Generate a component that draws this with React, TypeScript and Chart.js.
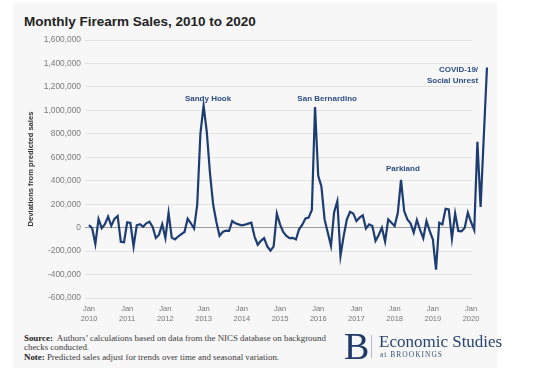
import React, { useEffect, useRef } from "react";
import { Chart, registerables } from "chart.js";

Chart.register(...registerables);

// Deviations from predicted monthly sales (thousands), Jan 2010 – Jun 2020
const dev2010 = [23, -6, -140, 74, -5, 30, 94, 15, 75, 100, -120, -125];
const dev2011 = [46, 40, -160, 20, 29, 8, 37, 50, 5, -88, -60, 29];
const dev2012 = [-88, 126, -85, -100, -76, -56, -37, 76, 37, -8, 197, 803];
const dev2013 = [1040, 817, 465, 197, 50, -70, -37, -25, -28, 56, 37, 28];
const dev2014 = [20, 25, 34, 42, -76, -146, -113, -90, -160, -197, -160, 121];
const dev2015 = [28, -37, -70, -90, -87, -101, -14, 25, 79, 85, 150, 1028];
const dev2016 = [442, 352, 70, -42, -155, 132, 225, -240, -70, 70, 135, 121];
const dev2017 = [56, 85, 104, -8, 28, 14, -113, -62, 0, -118, 70, 42];
const dev2018 = [14, 127, 408, 141, 70, 37, -42, 65, -20, -90, 56, -28];
const dev2019 = [-99, -358, 42, 28, 161, 155, -93, 121, -28, -31, -3, 127];
const dev2020 = [48, -20, 732, 177, 775, 1366];

const years = [2010, 2011, 2012, 2013, 2014, 2015, 2016, 2017, 2018, 2019, 2020];
const yTicks = [-600000, -400000, -200000, 0, 200000, 400000, 600000, 800000, 1000000, 1200000, 1400000, 1600000];

// Event labels: month index (0 = Jan 2010) and value where the label sits
const eventLabels = [
  { lines: ["Sandy Hook"], month: 37.4, value: 1098000, align: "center" },
  { lines: ["San Bernardino"], month: 74.8, value: 1102000, align: "center" },
  { lines: ["Parkland"], month: 98.6, value: 500000, align: "center" },
  { lines: ["COVID-19/", "Social Unrest"], month: 122.2, value: 1342000, align: "right" },
];

const allDev = [
  ...dev2010, ...dev2011, ...dev2012, ...dev2013, ...dev2014, ...dev2015,
  ...dev2016, ...dev2017, ...dev2018, ...dev2019, ...dev2020,
];
const points = allDev.map((v, i) => ({ x: i, y: v * 1000 }));

const eventLabelPlugin = {
  id: "eventLabels",
  afterDatasetsDraw(chart: any) {
    const { ctx, scales } = chart;
    const x = scales.x;
    const y = scales.y;
    ctx.save();
    ctx.fillStyle = "#2c4d82";
    ctx.font = 'bold 8px "Liberation Sans", Arial, sans-serif';
    ctx.textBaseline = "middle";
    eventLabels.forEach((ev) => {
      ctx.textAlign = ev.align;
      const px = x.getPixelForValue(ev.month);
      const py = y.getPixelForValue(ev.value);
      ev.lines.forEach((line, i) => ctx.fillText(line, px, py + i * 10.7));
    });
    ctx.restore();
  },
};

export default function App() {
  const ref = useRef<HTMLCanvasElement>(null);

  useEffect(() => {
    if (!ref.current) return;
    Chart.defaults.font.family = '"Liberation Sans", Arial, sans-serif';
    const chart = new Chart(ref.current, {
      type: "line",
      data: {
        datasets: [
          {
            data: points,
            borderColor: "#1d3d72",
            borderWidth: 2.2,
            pointRadius: 0,
            tension: 0,
            fill: false,
            clip: false as any,
          },
        ],
      },
      options: {
        animation: false,
        responsive: false,
        devicePixelRatio: 1,
        layout: { padding: { left: 22, right: 69, top: 10, bottom: 0 } },
        plugins: { legend: { display: false }, tooltip: { enabled: false } },
        scales: {
          x: {
            type: "linear",
            bounds: "data",
            afterDataLimits: (scale: any) => {
              scale.min = -1.25;
              scale.max = 120.3;
            },
            afterBuildTicks: (scale: any) => {
              scale.ticks = years.map((_, k) => ({ value: k * 12 }));
            },
            afterFit: (scale: any) => {
              scale.height = 32;
            },
            grid: { display: false, drawTicks: false },
            border: { display: false },
            ticks: {
              autoSkip: false,
              maxRotation: 0,
              padding: 6,
              color: "#767676",
              font: { size: 7.5, lineHeight: 1.35 },
              callback: (v: any) => ["Jan", String(2010 + Math.round(Number(v) / 12))],
            },
          },
          y: {
            min: -600000,
            max: 1600000,
            afterBuildTicks: (scale: any) => {
              scale.ticks = yTicks.map((v) => ({ value: v }));
            },
            afterFit: (scale: any) => {
              scale.width = 63;
            },
            grid: {
              drawTicks: false,
              color: (c: any) => (c.tick && c.tick.value === 0 ? "#9c9c9c" : "#e3e3e3"),
              lineWidth: 1,
            },
            border: { display: false },
            ticks: {
              padding: 4,
              color: "#7a7a7a",
              font: { size: 8.4 },
              callback: (v: any) => Number(v).toLocaleString("en-US"),
            },
            title: {
              display: true,
              text: "Deviations from predicted sales",
              color: "#333",
              font: { size: 7.6, weight: "bold" },
              padding: { top: 4, bottom: 0 },
            },
          },
        },
      },
      plugins: [eventLabelPlugin],
    } as any);
    return () => chart.destroy();
  }, []);

  return (
    <div
      style={{
        position: "fixed",
        left: 0,
        top: 0,
        width: 541,
        height: 378,
        background: "#ffffff",
        overflow: "hidden",
      }}
    >
      <div
        style={{
          position: "absolute",
          left: 13,
          top: 3,
          width: 484,
          height: 365,
          background: "#f7f7f7",
        }}
      />
      <div
        style={{
          position: "absolute",
          left: 24,
          top: 15,
          fontFamily: '"Liberation Sans", Arial, sans-serif',
          fontWeight: "bold",
          fontSize: 13.5,
          lineHeight: "14px",
          color: "#222",
          whiteSpace: "nowrap",
        }}
      >
        Monthly Firearm Sales, 2010 to 2020
      </div>
      <canvas
        ref={ref}
        width={541}
        height={300}
        style={{ position: "absolute", left: 0, top: 30, width: 541, height: 300 }}
      />
      <div
        style={{
          position: "absolute",
          left: 24,
          top: 334,
          fontFamily: '"Liberation Serif", "Times New Roman", serif',
          fontSize: 8.9,
          lineHeight: "9.4px",
          color: "#3a3a3a",
          whiteSpace: "nowrap",
        }}
      >
        <div>
          <b style={{ color: "#222" }}>Source:</b>&nbsp; Authors’ calculations based on data from the NICS database on background
        </div>
        <div>checks conducted.</div>
        <div>
          <b style={{ color: "#222" }}>Note:</b> Predicted sales adjust for trends over time and seasonal variation.
        </div>
      </div>
      <div
        style={{
          position: "absolute",
          left: 344,
          top: 327,
          fontFamily: '"Liberation Serif", "Times New Roman", serif',
          fontSize: 38,
          lineHeight: "38px",
          color: "#1f3a66",
        }}
      >
        B
      </div>
      <div
        style={{
          position: "absolute",
          left: 371,
          top: 335,
          width: 1,
          height: 23,
          background: "#b4bccb",
        }}
      />
      <div
        style={{
          position: "absolute",
          left: 379,
          top: 332.5,
          fontFamily: '"Liberation Serif", "Times New Roman", serif',
          fontSize: 17,
          lineHeight: "17px",
          color: "#2a4470",
          whiteSpace: "nowrap",
        }}
      >
        Economic Studies
      </div>
      <div
        style={{
          position: "absolute",
          left: 380,
          top: 351,
          fontFamily: '"Liberation Serif", "Times New Roman", serif',
          fontSize: 7.5,
          lineHeight: "7.5px",
          letterSpacing: 1,
          color: "#3e5478",
          whiteSpace: "nowrap",
        }}
      >
        at BROOKINGS
      </div>
    </div>
  );
}
